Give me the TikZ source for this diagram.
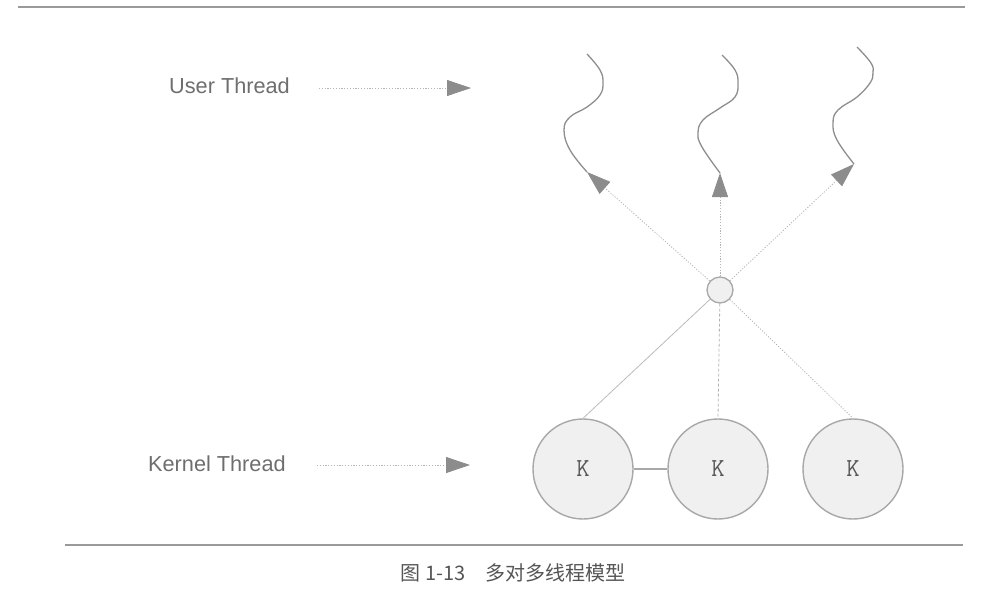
\documentclass[tikz,border=0pt]{standalone}
\usepackage{fontspec}
\setmainfont{Liberation Sans}
\newfontfamily\cjk{Noto Sans CJK SC}
\usetikzlibrary{arrows.meta}
\definecolor{rulec}{HTML}{9A9A9A}
\definecolor{txtc}{HTML}{6E6E6E}
\definecolor{captc}{HTML}{555555}
\definecolor{ktxt}{HTML}{585858}
\definecolor{linec}{HTML}{B4B4B4}
\definecolor{headc}{HTML}{8C8C8C}
\definecolor{circc}{HTML}{A8A8A8}
\definecolor{fillc}{HTML}{F0F0F0}
\definecolor{wavec}{HTML}{8E8E8E}
\tikzset{
  rulestyle/.style={draw=rulec, line width=1.8pt},
  lbl/.style={text=txtc, font=\fontsize{21.7}{24}\selectfont, inner sep=0pt},
  captionstyle/.style={text=captc, font=\cjk\fontsize{20}{23}\selectfont, inner sep=0pt},
  dotline/.style={draw=linec, line width=0.8pt, dash pattern=on 1.2pt off 1.6pt},
  tipped/.style={-{Triangle[length=24pt,width=16pt,color=headc,fill=headc]}},
  hubstyle/.style={circle, draw=circc, line width=1.3pt, fill=fillc, minimum size=26pt, inner sep=0pt},
  kstyle/.style={circle, draw=circc, line width=1.4pt, fill=fillc, minimum size=100pt, inner sep=0pt,
     text=ktxt, font=\ttfamily\fontsize{26}{28}\selectfont},
  solidlink/.style={draw=linec!90, line width=0.8pt},
  dashlink/.style={draw=linec, line width=0.8pt, dash pattern=on 3pt off 2pt},
  kline/.style={draw=circc, line width=1.3pt},
  wave/.style={draw=wavec, line width=1.3pt}
}
\begin{document}
\begin{tikzpicture}[x=1pt,y=-1pt]
\useasboundingbox (0,0) rectangle (997,600);
% rules
\coordinate (tl) at (18,7);
\coordinate (tr) at (965,7);
\coordinate (bl) at (65,545);
\coordinate (br) at (963,545);
\draw[rulestyle] (tl) -- (tr);
\draw[rulestyle] (bl) -- (br);
% caption
\node[captionstyle] (cap) at (513,573) {图 1-13\hspace{1em}多对多线程模型};
% labels
\node[lbl, anchor=west] (ul) at (169,86) {User Thread};
\node[lbl, anchor=west] (kl) at (148,464) {Kernel Thread};
\coordinate (uend) at (471,88);
\coordinate (kend) at (470,465);
\draw[dotline, tipped, shorten <=29pt] (ul.east |- uend) -- (uend);
\draw[dotline, tipped, shorten <=31pt] (kl.east |- kend) -- (kend);
% nodes
\node[hubstyle] (hub) at (720,290) {};
\node[kstyle] (k1) at (583,469) {K};
\node[kstyle] (k2) at (718,469) {K};
\node[kstyle] (k3) at (853,469) {K};
\draw[kline] (k1) -- (k2);
\draw[solidlink] (hub) -- (k1.north);
\draw[dashlink] (hub) -- (k2.north);
\draw[dotline] (hub) -- (k3.north);
% user threads
\coordinate (u1) at (587,172);
\coordinate (u2) at (720,173);
\coordinate (u3) at (854,164);
\draw[dotline, tipped] (hub) -- (u1);
\draw[dotline, tipped] (hub) -- (u2);
\draw[dotline, tipped] (hub) -- (u3);
\draw[wave] plot[smooth, tension=0.7] coordinates {(587,172) (570,150) (564,130) (570,117) (587,107) (600,95) (603,83) (600,70) (587,54)};
\draw[wave] plot[smooth, tension=0.7] coordinates {(720,173) (702,147) (698,133) (703,120) (720,108) (735,97) (738,83) (735,70) (722,55)};
\draw[wave] plot[smooth, tension=0.7] coordinates {(854,164) (837,140) (833,123) (838,110) (857,97) (870,83) (873,73) (871,63) (857,47)};
\end{tikzpicture}
\end{document}
